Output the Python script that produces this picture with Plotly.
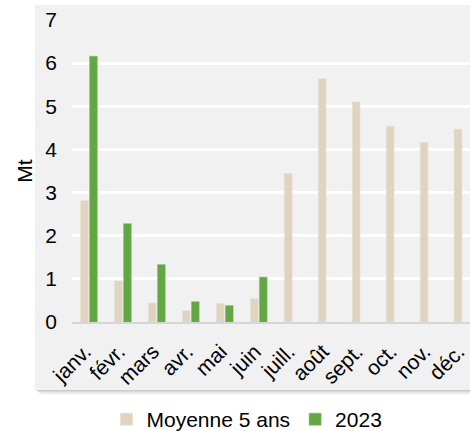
import plotly.graph_objects as go

months = ["janv.", "févr.", "mars", "avr.", "mai", "juin", "juill.", "août", "sept.", "oct.", "nov.", "déc."]
avg5 = [2.81, 0.95, 0.44, 0.26, 0.43, 0.54, 3.44, 5.64, 5.10, 4.54, 4.16, 4.47]
y2023 = [6.16, 2.28, 1.33, 0.47, 0.38, 1.04, None, None, None, None, None, None]
yticks = [0, 1, 2, 3, 4, 5, 6, 7]

W, H = 470, 431
FONT = "Liberation Sans, Arial, Helvetica, sans-serif"
PANEL = "#f1f1f1"
FS = 21

fig = go.Figure()
fig.add_trace(go.Bar(x=months, y=avg5, name="Moyenne 5 ans",
                     marker=dict(color="#ded4c0", line=dict(color="#e6ddcb", width=0.5))))
fig.add_trace(go.Bar(x=months, y=y2023, name="2023",
                     marker=dict(color="#62a744", line=dict(color="#7bbb5e", width=0.5))))

pw = W - 72
ph = H - 20 - 109
def px_x(x):
    return (x - 72) / pw
def px_y(y):
    return (322 - y) / ph

fig.update_layout(
    width=W, height=H,
    margin=dict(l=72, r=0, t=20, b=109, autoexpand=False),
    paper_bgcolor="white",
    plot_bgcolor=PANEL,
    barmode="group", bargap=0.47, bargroupgap=0.15,
    font=dict(family=FONT, size=FS, color="black"),
    showlegend=True,
    legend=dict(orientation="h", x=px_x(247), xanchor="center", y=px_y(399), yanchor="top",
                font=dict(size=FS), bgcolor="rgba(0,0,0,0)"),
)

panel_shapes = []
for i, op in enumerate([0.30, 0.22, 0.14, 0.08, 0.04]):
    panel_shapes.append(dict(type="rect", xref="paper", yref="paper", layer="below",
                             x0=px_x(37 + i), x1=px_x(480), y0=px_y(390 + i + 1), y1=px_y(390 + i),
                             fillcolor=f"rgba(80,80,80,{op})", line=dict(width=0)))
panel_shapes.append(dict(type="rect", xref="paper", yref="paper", layer="below",
                         x0=px_x(35), x1=px_x(480), y0=px_y(390), y1=px_y(5),
                         fillcolor=PANEL, line=dict(width=0)))
fig.update_layout(shapes=panel_shapes)

fig.update_xaxes(range=[-0.5, 11.22], tickangle=-45, showgrid=False, automargin=False,
                 showline=True, linecolor="#d6d6d6", linewidth=2,
                 ticks="", ticklabelstandoff=7, ticklabelshift=-4, tickfont=dict(size=FS))
fig.update_yaxes(range=[0, 7], tickvals=yticks, showgrid=True, gridcolor="white", gridwidth=3,
                 zeroline=False, ticks="", ticklabelstandoff=14, tickfont=dict(size=FS),
                 automargin=False,
                 title=dict(text="Mt", font=dict(size=FS), standoff=6))

fig.write_html("out.html")
